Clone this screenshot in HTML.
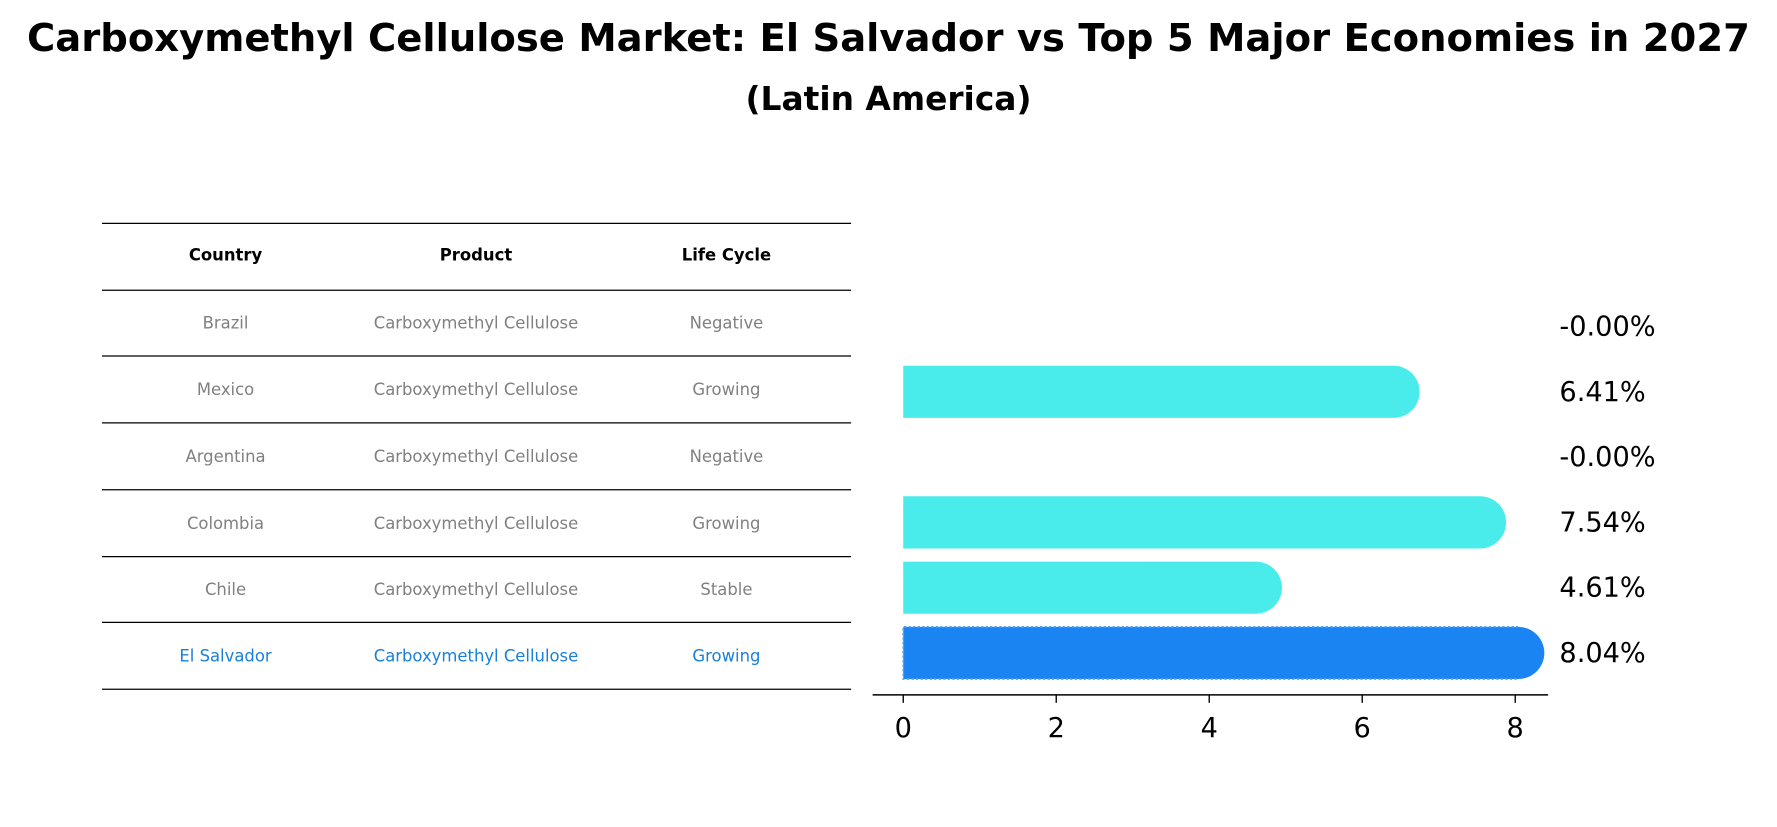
<!DOCTYPE html>
<html><head><meta charset="utf-8"><style>
body{margin:0;background:#fff;font-family:"DejaVu Sans","Liberation Sans",sans-serif;}
svg text{font-family:"DejaVu Sans","Liberation Sans",sans-serif;}
</style></head><body>
<svg id="c" width="1777" height="823" viewBox="0 0 1568 726" preserveAspectRatio="none" xmlns="http://www.w3.org/2000/svg">
<text x="784" y="45" text-anchor="middle" font-size="34" font-weight="bold">Carboxymethyl Cellulose Market: El Salvador vs Top 5 Major Economies in 2027</text>
<text x="784" y="97" text-anchor="middle" font-size="29" font-weight="bold">(Latin America)</text>
<g id="table"></g>
<g id="bars"></g>
</svg>
<script>
const countries=["Brazil","Mexico","Argentina","Colombia","Chile","El Salvador"];
const products=["Carboxymethyl Cellulose","Carboxymethyl Cellulose","Carboxymethyl Cellulose","Carboxymethyl Cellulose","Carboxymethyl Cellulose","Carboxymethyl Cellulose"];
const lifeCycles=["Negative","Growing","Negative","Growing","Stable","Growing"];
const values=[-0.00,6.41,-0.00,7.54,4.61,8.04];
const valueLabels=["-0.00%","6.41%","-0.00%","7.54%","4.61%","8.04%"];
const ticks=[0,2,4,6,8];
const NS="http://www.w3.org/2000/svg";
function mk(tag,attrs,parent,txt){const e=document.createElementNS(NS,tag);for(const k in attrs)e.setAttribute(k,attrs[k]);if(txt!==undefined)e.textContent=txt;parent.appendChild(e);return e;}
const T=document.getElementById('table');
const lineYs=[197,256,314,373,432,491,549,608];
const colX=[199,420,641];
lineYs.forEach((y,i)=>{const l=mk('line',{x1:90,x2:751,y1:y,y2:y,stroke:'#000','stroke-width':1.1},T);

});
["Country","Product","Life Cycle"].forEach((h,j)=>{const t=mk('text',{x:colX[j],y:230,'text-anchor':'middle','font-size':14.5,'font-weight':'bold'},T,h);

});
countries.forEach((c,i)=>{const y=(lineYs[i+1]+lineYs[i+2])/2+5;const col=i===5?'#1a7fd9':'#808080';
[c,products[i],lifeCycles[i]].forEach((v,j)=>{const t=mk('text',{x:colX[j],y:y,'text-anchor':'middle','font-size':14.5,fill:col},T,v);

});});
const B=document.getElementById('bars');
const x0=797,ppu=67.5,r=23;
const xs=v=>x0+v*ppu;
const rowY=i=>288+i*57.6;
values.forEach((v,i)=>{const cy=rowY(i);const col=i===5?'#1a85f2':'#4aeceb';
if(v>0){const w=xs(v)-x0;
const p=mk('path',{d:`M${x0},${cy-r} H${x0+w} A${r},${r} 0 0 1 ${x0+w},${cy+r} H${x0} Z`,fill:col},B);


if(i===5){const o=mk('path',{d:`M${x0+w},${cy-r} H${x0} V${cy+r} H${x0+w}`,fill:'none',stroke:'#5aa0e6','stroke-width':1.5,'stroke-dasharray':'2,2'},B);

}}
const t=mk('text',{x:1376,y:cy+8,'font-size':24},B,valueLabels[i]);

});
const ax=mk('line',{x1:770,x2:1366,y1:613,y2:613,stroke:'#000','stroke-width':1.3},B);


ticks.forEach(t=>{const l=mk('line',{x1:xs(t),x2:xs(t),y1:613,y2:620,stroke:'#000','stroke-width':1.2},B);


const tx=mk('text',{x:xs(t),y:650,'text-anchor':'middle','font-size':24},B,String(t));

});
</script>
</body></html>
